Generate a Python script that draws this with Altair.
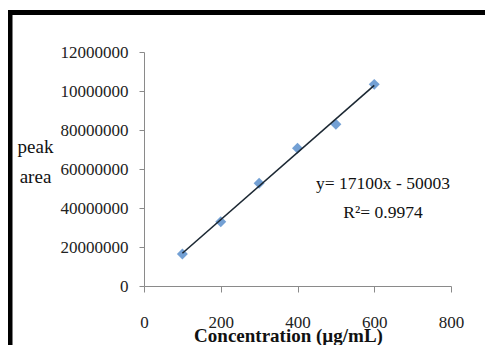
import altair as alt
import pandas as pd

# Data
conc = [100, 200, 300, 400, 500, 600]
area = [16400000, 33000000, 52700000, 70600000, 83000000, 103400000]

x_ticks = [0, 200, 400, 600, 800]
y_ticks = [0, 20000000, 40000000, 60000000, 80000000, 100000000, 120000000]
y_tick_labels = ["0", "20000000", "40000000", "60000000", "80000000", "10000000", "12000000"]
eq_lines = ["y= 17100x - 50003", "R\u00b2= 0.9974"]

df = pd.DataFrame({"conc": conc, "area": area})

label_expr = ""
for v, lab in zip(y_ticks, y_tick_labels):
    label_expr += f"datum.value == {v} ? '{lab}' : "
label_expr += "''"

FONT = "Liberation Serif"
AXIS_GRAY = "#8a8a8a"

x_enc = alt.X(
    "conc:Q",
    scale=alt.Scale(domain=[0, 800], nice=False),
    axis=alt.Axis(
        values=x_ticks, grid=False, domainColor=AXIS_GRAY, tickColor=AXIS_GRAY,
        tickSize=6, labelPadding=22, labelFont=FONT, labelFontSize=17,
        labelColor="#222222", labelFlush=False, labelOverlap=False,
        title="Concentration (\u00b5g/mL)", titleFont=FONT, titleFontSize=19,
        titleFontWeight="bold", titleColor="#111111",
        titleX=144, titleY=55, titleBaseline="alphabetic", titleAlign="center",
    ),
)
y_enc = alt.Y(
    "area:Q",
    scale=alt.Scale(domain=[0, 120000000], nice=False),
    axis=alt.Axis(
        values=y_ticks, labelExpr=label_expr, grid=False, labelOverlap=False,
        domainColor=AXIS_GRAY, tickColor=AXIS_GRAY, tickSize=5, labelPadding=11,
        labelFont=FONT, labelFontSize=17, labelColor="#222222",
        title=["peak", "area"], titleFont=FONT, titleFontSize=19,
        titleFontWeight="normal", titleColor="#111111", titleAngle=0,
        titleX=-109, titleY=100, titleAlign="center", titleBaseline="alphabetic",
        titleLineHeight=30,
    ),
)

base = alt.Chart(df)

points = base.mark_point(
    shape="diamond", filled=True, size=120, color="#5b8fcc", opacity=0.85
).encode(x=x_enc, y=y_enc)

trend = base.transform_regression("conc", "area").mark_line(
    color="#1c2833", strokeWidth=1.6
).encode(x=x_enc, y=y_enc)

eq_df = pd.DataFrame({"line": eq_lines, "row": [0, 1]})
eq1 = alt.Chart(eq_df).transform_filter("datum.row == 0").mark_text(
    font=FONT, fontSize=17.5, color="#111111", align="center", baseline="middle"
).encode(text="line:N", x=alt.value(239), y=alt.value(132))
eq2 = alt.Chart(eq_df).transform_filter("datum.row == 1").mark_text(
    font=FONT, fontSize=17.5, color="#111111", align="center", baseline="middle"
).encode(text="line:N", x=alt.value(239), y=alt.value(161))

frame_df = pd.DataFrame({"k": [0]})
left_border = alt.Chart(frame_df).mark_rule(color="black", strokeWidth=5).encode(
    x=alt.value(-134), y=alt.value(-42), y2=alt.value(300)
)
top_border = alt.Chart(frame_df).mark_rule(color="black", strokeWidth=5).encode(
    x=alt.value(-136.5), x2=alt.value(345), y=alt.value(-39.5)
)

chart = alt.layer(points, trend, eq1, eq2, left_border, top_border).properties(
    width=307,
    height=234,
    autosize=alt.AutoSizeParams(type="none"),
    padding={"left": 136, "top": 44, "right": 34, "bottom": 59},
    background="white",
).configure_view(stroke=None)

chart.save("out.html", embed_options={"renderer": "svg", "actions": False})
